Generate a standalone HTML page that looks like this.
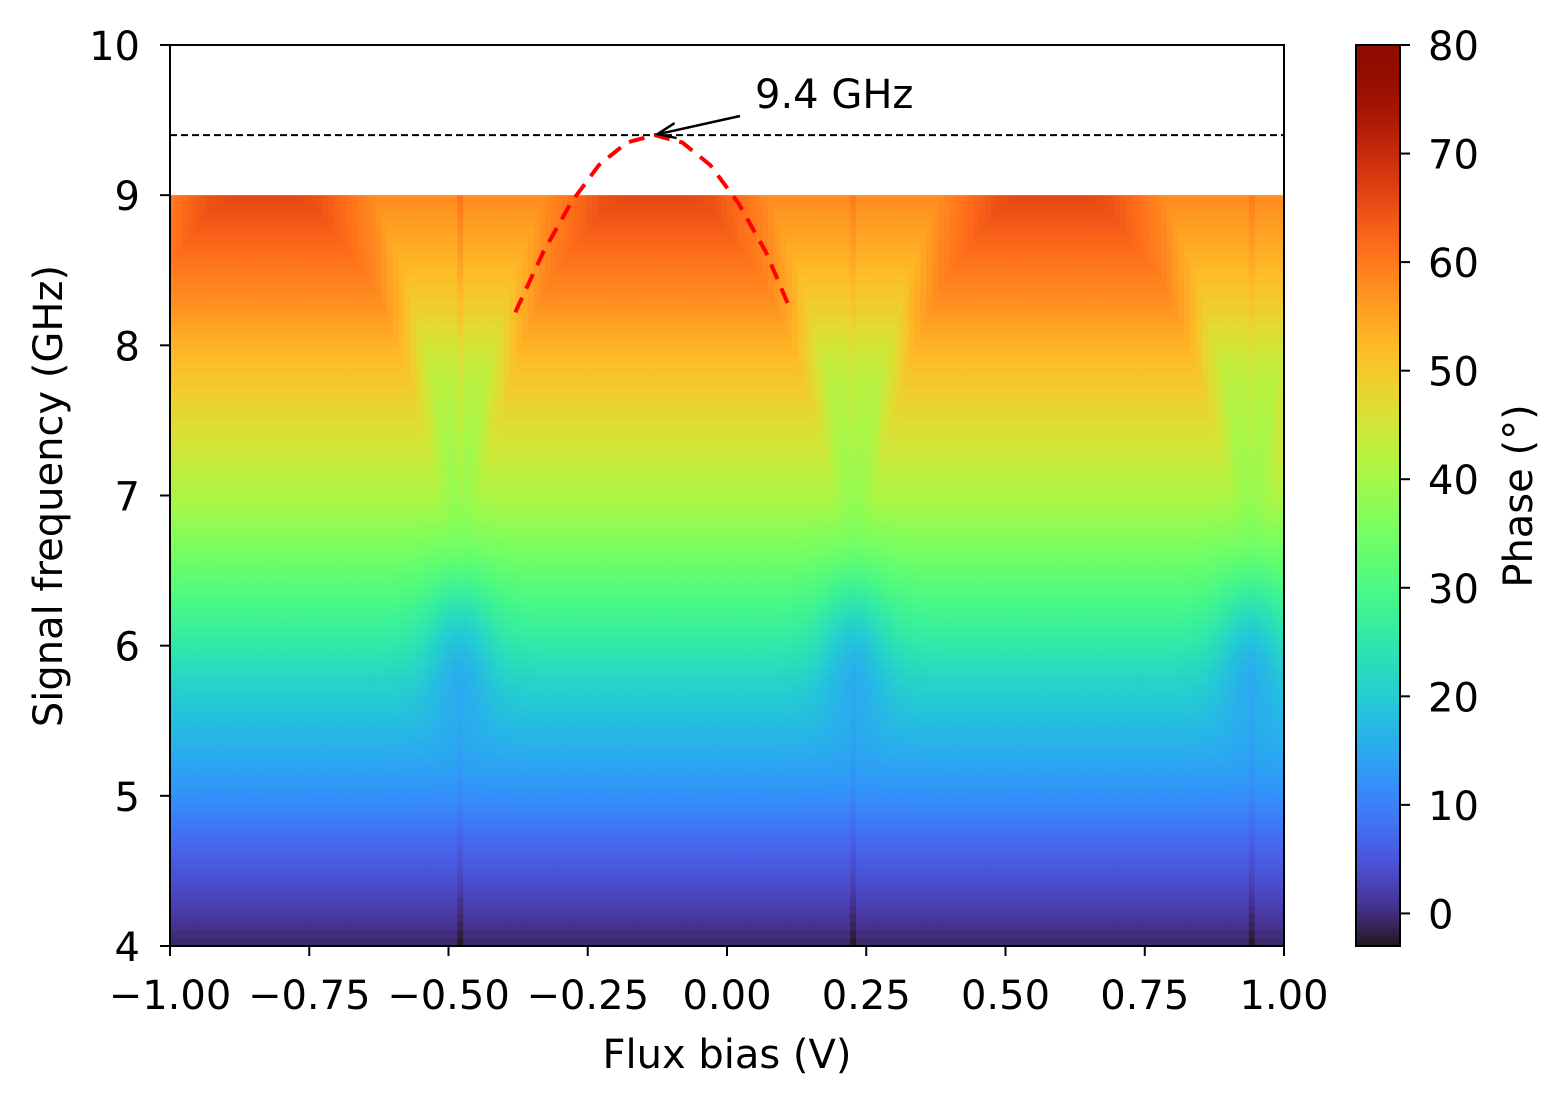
<!DOCTYPE html>
<html><head><meta charset="utf-8"><style>
body{margin:0;background:#fff;}
svg text{font-family:"DejaVu Sans","Liberation Sans",sans-serif;fill:#000;}
</style></head><body>
<svg id="chart" width="1568" height="1105" viewBox="0 0 1568 1105" xmlns="http://www.w3.org/2000/svg">
<g id="cells"></g>
<g id="overlay"></g>
<g id="axes"></g>
<g id="cbar"></g>
</svg>
<script>
// ---- data ----
const baseFreqs = [4,4.25,4.5,4.75,5,5.25,5.5,5.75,6,6.25,6.5,6.75,7,7.25,7.5,7.75,8,8.25,8.5,8.75,9];
const basePhase = [-1,2,5,8,12,15,18,21,25,29,33,37,41,44,47,50,53,57,60,63,66];
const dipFluxes = [-1.185,-0.48,0.228,0.94,1.645];
const resOffsets = [0,0.1,0.2,0.25,0.3,0.355];
const resFreqs = [9.4,9.2,8.7,8.25,7.6,6.5];
const glitchFluxes = [-0.48,0.228,0.94];
const glitchTop = [3,2,2];
const glitchBottom = [-2,-2,-2];
const fitFlux = [-0.38,-0.33,-0.28,-0.23,-0.18,-0.13,-0.08,-0.03,0.02,0.07,0.11];
const fitFreq = [8.22,8.62,8.95,9.2,9.35,9.4,9.35,9.2,8.95,8.62,8.27];
const xTicks = [-1,-0.75,-0.5,-0.25,0,0.25,0.5,0.75,1];
const xTickLabels = ["\u22121.00","\u22120.75","\u22120.50","\u22120.25","0.00","0.25","0.50","0.75","1.00"];
const yTicks = [4,5,6,7,8,9,10];
const cTicks = [0,10,20,30,40,50,60,70,80];
const refLine = 9.4;

// ---- scales ----
const X = v => 170 + (v + 1) * 557;
const Y = f => 946 - (f - 4) * 150.17;
const vmin = -3, vmax = 80;
const CY = p => 946 - (p - vmin) / (vmax - vmin) * 901;
function turbo(t){t=Math.max(0,Math.min(1,t));
 const r=0.13572138+t*(4.61539260+t*(-42.66032258+t*(132.13108234+t*(-152.94239396+t*59.28637943))));
 const g=0.09140261+t*(2.19418839+t*(4.84296658+t*(-14.18503333+t*(4.27729857+t*2.82956604))));
 const b=0.10667330+t*(12.64194608+t*(-60.58204836+t*(110.36276771+t*(-89.90310912+t*27.34824973))));
 const c=x=>Math.round(255*Math.max(0,Math.min(1,x)));
 return `rgb(${c(r)},${c(g)},${c(b)})`;}
const color = p => turbo((p - vmin) / (vmax - vmin));
function interp(xs, ys, x){ if(x<=xs[0])return ys[0]; for(let i=1;i<xs.length;i++){ if(x<=xs[i]){const t=(x-xs[i-1])/(xs[i]-xs[i-1]);return ys[i-1]+t*(ys[i]-ys[i-1]);}} return ys[ys.length-1];}
function dipDist(phi){ let d=1e9; for(const c of dipFluxes){d=Math.min(d,Math.abs(phi-c));} return d;}
function resFreq(phi){ const off=Math.max(0,0.355-dipDist(phi)); return interp(resOffsets,resFreqs,off);}

// ---- heatmap ----
const NS="http://www.w3.org/2000/svg";
const cells=document.getElementById('cells');
const nc=190, nr=94, fmin=4, fmax=9;
const cw=(X(1)-X(-1))/nc, rh=(Y(fmin)-Y(fmax))/nr;
for(let j=0;j<nr;j++){
 const f=fmin+(j+0.5)*(fmax-fmin)/nr;
 const b=interp(baseFreqs,basePhase,f);
 for(let i=0;i<nc;i++){
  const phi=-1+(i+0.5)*2/nc;
  let p=b;
  const fr=resFreq(phi);
  const s=Math.max(0,Math.min(1,(f-fr+0.3)/0.6));
  const hi=Math.max(0,Math.min(1,(f-6.6)/1.2));
  p-=8*s*hi;
  const d=dipDist(phi);
  p-=7*Math.exp(-Math.pow(d/0.06,2))*Math.exp(-Math.pow((f-6.0)/0.5,2));
  for(let k=0;k<glitchFluxes.length;k++){
   if(Math.abs(phi-glitchFluxes[k])<2/nc*0.6){const t=(f-fmin)/(fmax-fmin);p+=glitchBottom[k]+(glitchTop[k]-glitchBottom[k])*t;}
  }
  const r=document.createElementNS(NS,'rect');
  
  
  r.setAttribute('x',(X(-1)+i*cw).toFixed(2));
  r.setAttribute('y',(Y(fmin)-(j+1)*rh).toFixed(2));
  r.setAttribute('width',(cw+0.6).toFixed(2));
  r.setAttribute('height',(rh+0.6).toFixed(2));
  r.setAttribute('fill',color(p));
  cells.appendChild(r);
 }
}

// ---- overlay ----
const ov=document.getElementById('overlay');
let h='';
h+=`<line x1="${X(-1)}" y1="${Y(refLine)}" x2="${X(1)}" y2="${Y(refLine)}" stroke="#000" stroke-width="2" stroke-dasharray="7,4"/>`;
let pts=fitFlux.map((v,i)=>`${X(v).toFixed(1)},${Y(fitFreq[i]).toFixed(1)}`).join(' ');
h+=`<polyline points="${pts}" fill="none" stroke="#ff0000" stroke-width="4" stroke-dasharray="16,10"/>`;
const ax=X(-0.13), ay=Y(refLine);
h+=`<g><line x1="740" y1="116" x2="${ax+4}" y2="${ay-1}" stroke="#000" stroke-width="2.5"/><polyline points="${ax+20},${ay-12} ${ax+3},${ay-1} ${ax+22},${ay+3}" fill="none" stroke="#000" stroke-width="2.5"/></g>`;
h+=`<text x="755" y="108" font-size="40">9.4 GHz</text>`;
ov.innerHTML=h;

// ---- axes ----
const axg=document.getElementById('axes');
h=`<rect x="${X(-1)}" y="${Y(10)}" width="${X(1)-X(-1)}" height="${Y(4)-Y(10)}" fill="none" stroke="#000" stroke-width="2"/>`;
xTicks.forEach((v,i)=>{h+=`<g><line x1="${X(v)}" y1="${Y(4)}" x2="${X(v)}" y2="${Y(4)+10}" stroke="#000" stroke-width="2"/><text x="${X(v)}" y="1009" font-size="40" text-anchor="middle">${xTickLabels[i]}</text></g>`;});
yTicks.forEach(v=>{h+=`<g><line x1="${X(-1)-10}" y1="${Y(v)}" x2="${X(-1)}" y2="${Y(v)}" stroke="#000" stroke-width="2"/><text x="${X(-1)-30}" y="${Y(v)+15}" font-size="40" text-anchor="end">${v}</text></g>`;});
h+=`<text x="${X(0)}" y="1068" font-size="40" text-anchor="middle">Flux bias (V)</text>`;
h+=`<text transform="translate(62,496) rotate(-90)" font-size="40" text-anchor="middle">Signal frequency (GHz)</text>`;
axg.innerHTML=h;

// ---- colorbar ----
const cb=document.getElementById('cbar');
h='<defs><linearGradient id="cg" x1="0" y1="1" x2="0" y2="0">';
for(let k=0;k<=40;k++){h+=`<stop offset="${k/40}" stop-color="${turbo(k/40)}"/>`;}
h+='</linearGradient></defs>';
h+=`<rect x="1356" y="45" width="44" height="901" fill="url(#cg)" stroke="#000" stroke-width="2"/>`;
cTicks.forEach(v=>{h+=`<g><line x1="1400" y1="${CY(v)}" x2="1410" y2="${CY(v)}" stroke="#000" stroke-width="2"/><text x="1428" y="${CY(v)+15}" font-size="40">${v}</text></g>`;});
h+=`<text transform="translate(1532,496) rotate(-90)" font-size="40" text-anchor="middle">Phase (°)</text>`;
cb.innerHTML=h;
</script>
</body></html>
